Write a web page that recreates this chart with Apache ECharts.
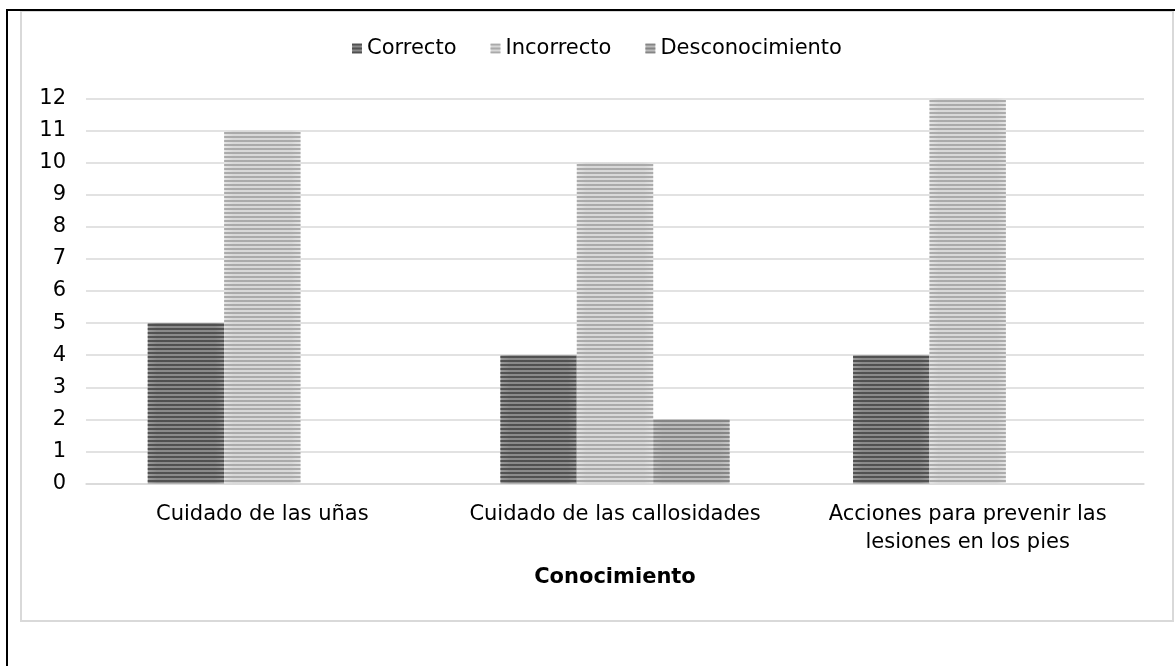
<!DOCTYPE html>
<html>
<head>
<meta charset="utf-8">
<script src="https://cdn.jsdelivr.net/npm/echarts@6/dist/echarts.min.js"></script>
<style>
  html, body { margin: 0; padding: 0; background: #ffffff; }
  #chart { width: 1175px; height: 666px; }
</style>
</head>
<body>
<div id="chart"></div>
<script>
// Knowledge topics and answer counts per group
const categories = [
  'Cuidado de las uñas',
  'Cuidado de las callosidades',
  'Acciones para prevenir las\nlesiones en los pies'
];
const seriesNames = ['Correcto', 'Incorrecto', 'Desconocimiento'];
const correcto = [5, 4, 4];
const incorrecto = [11, 10, 12];
const desconocimiento = [0, 2, 0];
const yTicks = [0, 12, 1]; // min, max, interval

const FONT = '"DejaVu Sans", "Liberation Sans", Arial, sans-serif';
const FS = 21;

// Striped fill: soft edge shading underneath, horizontal stripes on top
function striped(edge, mid, stripe) {
  return {
    color: {
      type: 'linear', x: 0, y: 0, x2: 1, y2: 0,
      colorStops: [
        { offset: 0, color: edge },
        { offset: 0.12, color: mid },
        { offset: 0.88, color: mid },
        { offset: 1, color: edge }
      ]
    },
    decal: {
      symbol: 'rect',
      symbolSize: 1,
      dashArrayX: [1, 0],
      dashArrayY: [2, 2],
      rotation: 0,
      color: stripe
    }
  };
}

const styles = [
  striped('#9a9a9a', '#8a8a8a', 'rgba(70,70,70,0.85)'),
  striped('#e4e4e4', '#d8d8d8', 'rgba(165,165,165,0.9)'),
  striped('#c4c4c4', '#bababa', 'rgba(128,128,128,0.9)')
];
const dataSets = [correcto, incorrecto, desconocimiento];

const chart = echarts.init(document.getElementById('chart'), null, { renderer: 'canvas' });

chart.setOption({
  backgroundColor: '#ffffff',
  animation: false,
  aria: { enabled: true, decal: { show: true } },
  graphic: [
    { type: 'rect', shape: { x: 21, y: 11, width: 1152, height: 610 },
      style: { fill: 'none', stroke: '#d9d9d9', lineWidth: 2 }, z: -1 },
    { type: 'line', shape: { x1: 7, y1: 10, x2: 1175, y2: 10 },
      style: { stroke: '#000000', lineWidth: 2 } },
    { type: 'line', shape: { x1: 7, y1: 9, x2: 7, y2: 666 },
      style: { stroke: '#000000', lineWidth: 2 } }
  ],
  legend: {
    top: 33,
    left: 347,
    icon: 'rect',
    itemWidth: 10,
    itemHeight: 10,
    itemGap: 34,
    textStyle: { fontFamily: FONT, fontSize: FS, color: '#000000' },
    data: seriesNames
  },
  grid: { left: 86, right: 31, top: 98.5, bottom: 182.5 },
  xAxis: {
    type: 'category',
    data: categories,
    name: 'Conocimiento',
    nameLocation: 'middle',
    nameGap: 84,
    nameTextStyle: { fontFamily: FONT, fontSize: FS, fontWeight: 'bold', color: '#000000' },
    axisLine: { lineStyle: { color: '#d9d9d9', width: 1.5 } },
    axisTick: { show: false },
    axisLabel: { fontFamily: FONT, fontSize: FS, color: '#000000', margin: 17, lineHeight: 28, interval: 0 }
  },
  yAxis: {
    type: 'value',
    min: yTicks[0],
    max: yTicks[1],
    interval: yTicks[2],
    axisLine: { show: false },
    axisTick: { show: false },
    axisLabel: { fontFamily: FONT, fontSize: FS, color: '#000000', margin: 20 },
    splitLine: { lineStyle: { color: '#d9d9d9', width: 1.5 } }
  },
  series: seriesNames.map((name, i) => ({
    name: name,
    type: 'bar',
    data: dataSets[i],
    barGap: '0%',
    barCategoryGap: '35%',
    itemStyle: styles[i]
  }))
});
</script>
</body>
</html>
